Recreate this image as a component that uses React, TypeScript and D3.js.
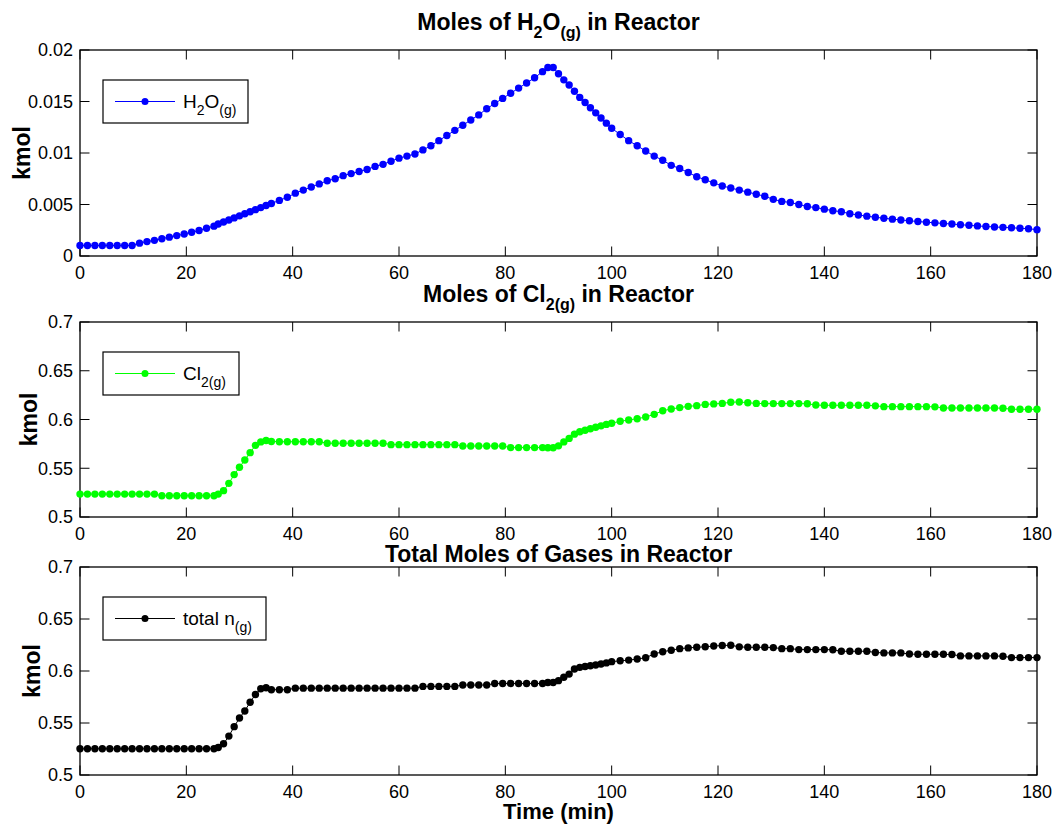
import React from 'react';
import * as d3 from 'd3';

// ---------------- data ----------------
const timeMin = [
  0, 1.4, 2.8, 4.2, 5.6, 7, 8.4, 9.8, 11.2, 12.6, 14, 15.4, 16.8, 18.2, 19.6, 21, 22.4, 23.8, 25.2,
  26, 27, 28, 29, 30, 31, 32, 33, 34, 35, 36,
  37.5, 39, 40.5, 42, 43.5, 45, 46.5, 48, 49.5, 51, 52.5, 54, 55.5, 57, 58.5, 60, 61.5, 63, 64.5, 66,
  67.5, 69, 70.5, 72, 73.5, 75, 76.5, 78, 79.5, 81, 82.5, 84, 85.5, 87,
  88, 89, 90, 91, 92, 93, 94, 95, 96, 97, 98, 99, 100,
  101.6, 103.2, 104.8, 106.4, 108, 109.6, 111.2, 112.8, 114.4, 116, 117.6, 119.2, 120.8, 122.4, 124,
  125.6, 127.2, 128.8, 130.4, 132, 133.6, 135.2, 136.8, 138.4, 140, 141.6, 143.2, 144.8, 146.4, 148,
  149.6, 151.2, 152.8, 154.4, 156, 157.6, 159.2, 160.8, 162.4, 164, 165.6, 167.2, 168.8, 170.4, 172,
  173.6, 175.2, 176.8, 178.4, 180,
];

const h2oKmol = [
  0.00102, 0.00102, 0.00102, 0.00102, 0.00102, 0.00102, 0.00102, 0.00102, 0.00125, 0.0014, 0.00152,
  0.00168, 0.00183, 0.00198, 0.00213, 0.0023, 0.00248, 0.0027, 0.0029,
  0.0031, 0.0033, 0.0035, 0.0037, 0.0039, 0.0041, 0.0043, 0.0045, 0.0047, 0.0049, 0.0051,
  0.0054, 0.0057, 0.0061, 0.0064, 0.0067, 0.007, 0.0073, 0.0075, 0.0078, 0.008, 0.0082, 0.0084,
  0.0087, 0.0089, 0.0092, 0.0095, 0.0097, 0.0099, 0.0103, 0.0107, 0.0112, 0.0117, 0.0122, 0.0127,
  0.0132, 0.0137, 0.0143, 0.0148, 0.0153, 0.0158, 0.0163, 0.0168, 0.0173, 0.0179,
  0.0183, 0.0183, 0.0177, 0.0171, 0.0166, 0.016, 0.0154, 0.0149, 0.0144, 0.0139, 0.0134, 0.0129, 0.0124,
  0.0118, 0.0112, 0.0107, 0.0102, 0.0097, 0.0093, 0.0088, 0.0085, 0.0081, 0.0077, 0.0074, 0.0071,
  0.0068, 0.0066, 0.0064, 0.0062, 0.006, 0.0058, 0.0055, 0.0053, 0.0052, 0.005, 0.0048, 0.0047,
  0.00455, 0.0044, 0.0043, 0.0041, 0.00398, 0.00387, 0.00376, 0.00367, 0.00358, 0.0035, 0.00342,
  0.00335, 0.00328, 0.00322, 0.00316, 0.0031, 0.00304, 0.00298, 0.00292, 0.00287, 0.00282, 0.00278,
  0.00274, 0.0027, 0.00264, 0.00256,
];

const cl2Kmol = [
  0.5235, 0.5235, 0.5235, 0.5235, 0.5235, 0.5235, 0.5235, 0.5235, 0.5235, 0.5235, 0.5235,
  0.5218, 0.5218, 0.5218, 0.5218, 0.5218, 0.5218, 0.5218, 0.5218,
  0.5235, 0.527, 0.5345, 0.5435, 0.551, 0.5585, 0.566, 0.5735, 0.577, 0.5785, 0.5775,
  0.5772, 0.5772, 0.5772, 0.5772, 0.5772, 0.5772,
  0.5757, 0.5757, 0.5757, 0.5757, 0.5757, 0.5757, 0.5757, 0.5757,
  0.5742, 0.5742, 0.5742, 0.5742, 0.5742, 0.5742, 0.5742, 0.5742, 0.5742,
  0.5728, 0.5728, 0.5728, 0.5728, 0.5728, 0.5728,
  0.5712, 0.5712, 0.5712, 0.5712, 0.5712,
  0.571, 0.571, 0.573, 0.577, 0.5806, 0.585, 0.5875, 0.589, 0.5905, 0.592, 0.5935, 0.595, 0.5962,
  0.5982, 0.5995, 0.6008, 0.6025, 0.6053, 0.609, 0.6108, 0.6122, 0.6135, 0.6142,
  0.6155, 0.616, 0.6165, 0.6177, 0.618, 0.6172, 0.6165, 0.6163, 0.6163, 0.6163,
  0.6163, 0.6163, 0.6162, 0.6148, 0.6146, 0.6146, 0.6146, 0.6146, 0.6146, 0.6146,
  0.614, 0.6132, 0.6132, 0.6132, 0.6132, 0.6132, 0.6132, 0.613, 0.6118, 0.6118,
  0.6118, 0.6118, 0.6118, 0.6118, 0.6118, 0.6116, 0.6105, 0.6105, 0.6105, 0.6105,
];

const totalKmol = [
  0.5252, 0.5252, 0.5252, 0.5252, 0.5252, 0.5252, 0.5252, 0.5252, 0.5252, 0.5252, 0.5252,
  0.5252, 0.5252, 0.5252, 0.5252, 0.5252, 0.5252, 0.5252, 0.5252,
  0.5265, 0.53, 0.5374, 0.5465, 0.5548, 0.5616, 0.57, 0.5774, 0.583, 0.5839, 0.582,
  0.582, 0.582,
  0.5835, 0.5835, 0.5835, 0.5835, 0.5835, 0.5835, 0.5835, 0.5835,
  0.5835, 0.5835, 0.5835, 0.5835, 0.5835, 0.5835, 0.5835, 0.5835,
  0.5852, 0.5852, 0.5852, 0.5852, 0.5852,
  0.5865, 0.5865, 0.5865, 0.5865,
  0.588, 0.588, 0.588, 0.588, 0.588, 0.588, 0.588,
  0.589, 0.589, 0.5907, 0.594, 0.597, 0.6019, 0.6035, 0.6043, 0.605, 0.6058, 0.6067, 0.6078, 0.609,
  0.6098, 0.6105, 0.6115, 0.6128, 0.6164, 0.6185, 0.62, 0.6215, 0.6222, 0.6228,
  0.6233, 0.624, 0.6245, 0.6248, 0.6232, 0.6228, 0.6228, 0.6228, 0.6225, 0.6215,
  0.6215, 0.6206, 0.6206, 0.6206, 0.6206, 0.6204, 0.619, 0.619, 0.619, 0.619,
  0.6178, 0.6174, 0.6174, 0.6174, 0.6163, 0.6161, 0.6161, 0.6161, 0.6161, 0.6158,
  0.6145, 0.6145, 0.6145, 0.6145, 0.6145, 0.6142, 0.6129, 0.6129, 0.6129, 0.6129,
];

const xTicks = [0, 20, 40, 60, 80, 100, 120, 140, 160, 180];
const xTickLabels = ['0', '20', '40', '60', '80', '100', '120', '140', '160', '180'];
const h2oTicks = [0, 0.005, 0.01, 0.015, 0.02];
const h2oTickLabels = ['0', '0.005', '0.01', '0.015', '0.02'];
const gasTicks = [0.5, 0.55, 0.6, 0.65, 0.7];
const gasTickLabels = ['0.5', '0.55', '0.6', '0.65', '0.7'];

// ---------------- layout ----------------
const W = 1057;
const H = 828;
const LEFT = 80;
const RIGHT = 1037;
const FONT = "'Liberation Sans', Arial, Helvetica, sans-serif";
const TICK = 9.5;

const x = d3.scaleLinear().domain([0, 180]).range([LEFT, RIGHT]);

type Seg = { t: string; sub?: boolean };

function Rich({ segs, subSize, subDy }: { segs: Seg[]; subSize: number; subDy: number }) {
  let prevSub = false;
  return (
    <>
      {segs.map((s, i) => {
        let dy = 0;
        if (s.sub && !prevSub) dy = subDy;
        if (!s.sub && prevSub) dy = -subDy;
        prevSub = !!s.sub;
        return (
          <tspan key={i} dy={dy} fontSize={s.sub ? subSize : undefined}>
            {s.t}
          </tspan>
        );
      })}
    </>
  );
}

type PanelProps = {
  top: number;
  bottom: number;
  domain: [number, number];
  yTicks: number[];
  yTickLabels: string[];
  values: number[];
  color: string;
  title: Seg[];
  titleY: number;
  legend: Seg[];
  legendW: number;
  kmolX: number;
};

function Panel(p: PanelProps) {
  const y = d3.scaleLinear().domain(p.domain).range([p.bottom, p.top]);
  const pts = timeMin.map((t, i) => [t, p.values[i]] as [number, number]);
  const line = d3
    .line<[number, number]>()
    .x((d) => x(d[0]))
    .y((d) => y(d[1]));
  const lgX = LEFT + 23;
  const lgY = p.top + 30;
  const lgH = 43;
  const midY = lgY + lgH / 2;
  return (
    <g>
      <text
        x={(LEFT + RIGHT) / 2}
        y={p.titleY}
        textAnchor="middle"
        fontFamily={FONT}
        fontWeight="bold"
        fontSize={23}
      >
        <Rich segs={p.title} subSize={16} subDy={8} />
      </text>
      <rect
        x={LEFT}
        y={p.top}
        width={RIGHT - LEFT}
        height={p.bottom - p.top}
        fill="white"
        stroke="black"
        strokeWidth={1.3}
      />
      {xTicks.map((t, i) => (
        <g key={'xt' + i}>
          <line x1={x(t)} x2={x(t)} y1={p.bottom} y2={p.bottom - TICK} stroke="black" strokeWidth={1} />
          <line x1={x(t)} x2={x(t)} y1={p.top} y2={p.top + TICK} stroke="black" strokeWidth={1} />
          <text x={x(t)} y={p.bottom + 23} textAnchor="middle" fontFamily={FONT} fontSize={18}>
            {xTickLabels[i]}
          </text>
        </g>
      ))}
      {p.yTicks.map((t, i) => (
        <g key={'yt' + i}>
          <line x1={LEFT} x2={LEFT + TICK} y1={y(t)} y2={y(t)} stroke="black" strokeWidth={1} />
          <line x1={RIGHT} x2={RIGHT - TICK} y1={y(t)} y2={y(t)} stroke="black" strokeWidth={1} />
          <text x={LEFT - 7} y={y(t)} dy="0.36em" textAnchor="end" fontFamily={FONT} fontSize={18}>
            {p.yTickLabels[i]}
          </text>
        </g>
      ))}
      <text
        transform={`translate(${p.kmolX},${(p.top + p.bottom) / 2}) rotate(-90)`}
        textAnchor="middle"
        fontFamily={FONT}
        fontWeight="bold"
        fontSize={23}
      >
        kmol
      </text>
      <path d={line(pts) || ''} fill="none" stroke={p.color} strokeWidth={1} />
      {pts.map((d, i) => (
        <circle key={'pt' + i} cx={x(d[0])} cy={y(d[1])} r={3.7} fill={p.color} />
      ))}
      <rect x={lgX} y={lgY} width={p.legendW} height={lgH} fill="white" stroke="black" strokeWidth={1.2} />
      <line x1={lgX + 12} x2={lgX + 72} y1={midY} y2={midY} stroke={p.color} strokeWidth={1} />
      <circle cx={lgX + 42} cy={midY} r={3.5} fill={p.color} />
      <text x={lgX + 80} y={midY + 6} fontFamily={FONT} fontSize={19}>
        <Rich segs={p.legend} subSize={14} subDy={7} />
      </text>
    </g>
  );
}

export default function App() {
  return (
    <svg
      width={W}
      height={H}
      viewBox={`0 0 ${W} ${H}`}
      style={{ position: 'absolute', left: 0, top: 0, display: 'block', background: 'white' }}
    >
      <rect x={0} y={0} width={W} height={H} fill="white" />
      <Panel
        top={50}
        bottom={256}
        domain={[0, 0.02]}
        yTicks={h2oTicks}
        yTickLabels={h2oTickLabels}
        values={h2oKmol}
        color="#0000ff"
        titleY={30}
        title={[
          { t: 'Moles of H' },
          { t: '2', sub: true },
          { t: 'O' },
          { t: '(g)', sub: true },
          { t: ' in Reactor' },
        ]}
        legend={[{ t: 'H' }, { t: '2', sub: true }, { t: 'O' }, { t: '(g)', sub: true }]}
        legendW={145}
        kmolX={30}
      />
      <Panel
        top={322}
        bottom={517}
        domain={[0.5, 0.7]}
        yTicks={gasTicks}
        yTickLabels={gasTickLabels}
        values={cl2Kmol}
        color="#00ff00"
        titleY={302}
        title={[{ t: 'Moles of Cl' }, { t: '2(g)', sub: true }, { t: ' in Reactor' }]}
        legend={[{ t: 'Cl' }, { t: '2(g)', sub: true }]}
        legendW={136}
        kmolX={37}
      />
      <Panel
        top={567}
        bottom={775}
        domain={[0.5, 0.7]}
        yTicks={gasTicks}
        yTickLabels={gasTickLabels}
        values={totalKmol}
        color="#000000"
        titleY={562}
        title={[{ t: 'Total Moles of Gases in Reactor' }]}
        legend={[{ t: 'total n' }, { t: '(g)', sub: true }]}
        legendW={163}
        kmolX={40}
      />
      <text
        x={(LEFT + RIGHT) / 2}
        y={819}
        textAnchor="middle"
        fontFamily={FONT}
        fontWeight="bold"
        fontSize={22}
      >
        Time (min)
      </text>
    </svg>
  );
}
